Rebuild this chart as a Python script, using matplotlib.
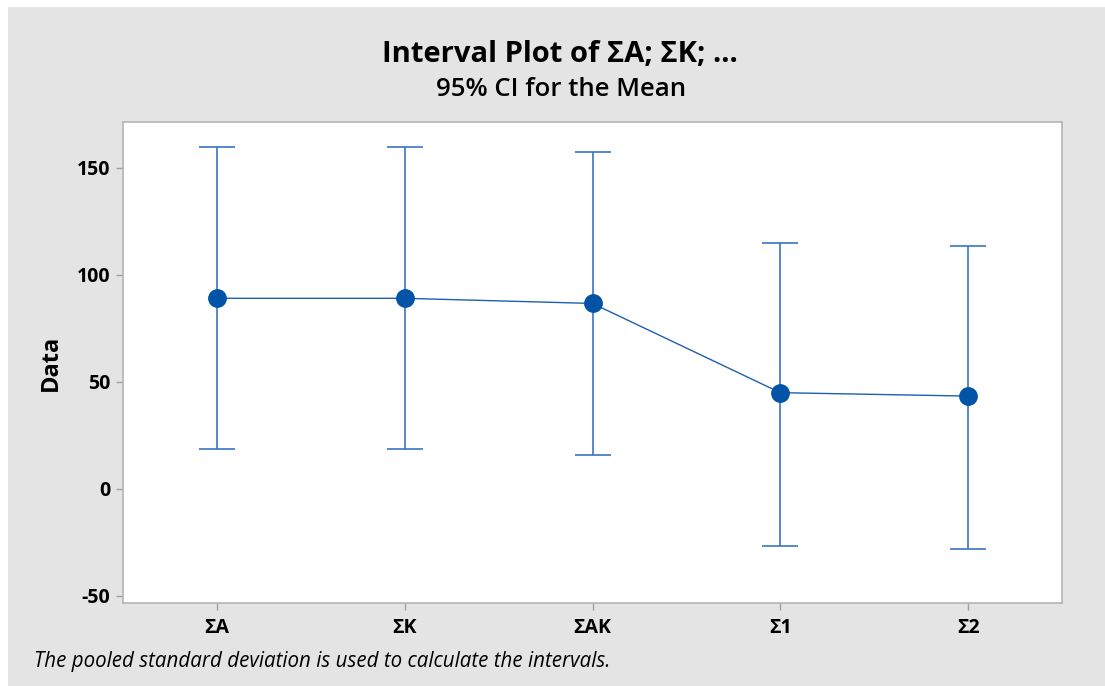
import matplotlib
matplotlib.use("Agg")
import matplotlib.pyplot as plt
from matplotlib.patches import Rectangle

categories = ["ΣA", "ΣK", "ΣAK", "Σ1", "Σ2"]
means = [89.0, 89.0, 86.6, 44.9, 43.3]
upper = [159.8, 159.8, 157.2, 115.0, 113.3]
lower = [18.4, 18.4, 15.7, -26.6, -28.3]
yticks = [-50, 0, 50, 100, 150]

plt.rcParams['font.family'] = ['Open Sans', 'DejaVu Sans']

W, H = 1105, 686
fig = plt.figure(figsize=(W/100, H/100), dpi=100)
fig.patch.set_facecolor('white')
fig.patches.append(Rectangle((8/W, 0), 1 - 8/W, 1 - 7/H, transform=fig.transFigure,
                             facecolor='#e4e4e4', edgecolor='none', zorder=-5))

ax = fig.add_axes([123/W, 1 - 603/H, (1062-123)/W, (603-122)/H])
ax.set_zorder(1)
ax.set_facecolor('white')

x = list(range(len(categories)))
err_lo = [m - l for m, l in zip(means, lower)]
err_hi = [u - m for m, u in zip(means, upper)]
ax.errorbar(x, means, yerr=[err_lo, err_hi], fmt='none', ecolor='#3b74c2',
            elinewidth=1.2, capsize=13, capthick=1.2, zorder=2)
ax.plot(x, means, color='#1f5fb0', lw=1.0, zorder=3)
ax.plot(x, means, 'o', color='#0053a5', markersize=12.5, zorder=4)

ax.set_xlim(-0.5, 4.5)
ax.set_ylim(-53.4, 171.4)
ax.set_xticks(x)
ax.set_xticklabels(categories, fontsize=14, fontweight='bold')
ax.set_yticks(yticks)
ax.set_yticklabels([str(v) for v in yticks], fontsize=14, fontweight='bold')
ax.tick_params(axis='both', color='#a0a0a0', length=5, width=1)
ax.tick_params(axis='x', pad=6)
ax.tick_params(axis='y', pad=4)
for s in ax.spines.values():
    s.set_color('#b4b4b4')
    s.set_linewidth(1.2)
ax.set_ylabel('Data', fontsize=17, fontweight='bold', labelpad=10)

fig.text(560/W, 1 - 55/H, 'Interval Plot of ΣA; ΣK; ...', ha='center', va='center',
         fontsize=21, fontweight='bold')
fig.text(561/W, 1 - 89/H, '95% CI for the Mean', ha='center', va='center',
         fontsize=18.5, fontweight='semibold')
fig.text(34/W, 1 - 662/H, 'The pooled standard deviation is used to calculate the intervals.',
         ha='left', va='center', fontsize=14.8, style='italic')

fig.savefig('out.png', dpi=100, facecolor=fig.get_facecolor())
